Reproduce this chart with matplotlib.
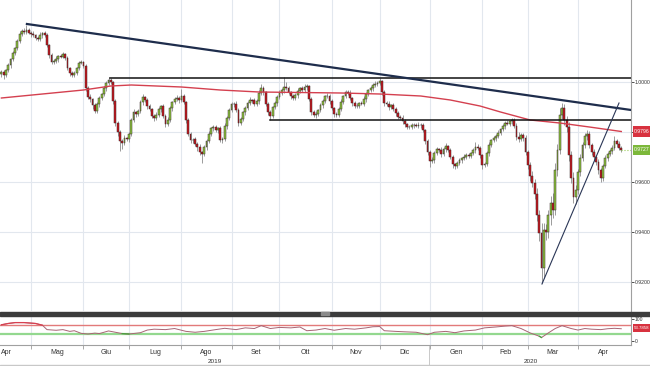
import numpy as np
import pandas as pd
import matplotlib
matplotlib.use("Agg")
import matplotlib.pyplot as plt
import matplotlib.transforms as mtrans
from matplotlib.patches import Rectangle

plt.rcParams['font.family'] = ['Liberation Sans', 'DejaVu Sans']

# ---------------- data (USD/CHF daily, prices in pips = 1/10000) ----------------
first_open_pips = 10030
close_pips = [
    10038, 10026, 10046, 10066, 10090, 10114, 10134, 10162, 10190, 10202,
    10198, 10206, 10194, 10190, 10186, 10174, 10170, 10186, 10194, 10186,
    10146, 10106, 10078, 10082, 10090, 10102, 10100, 10110, 10094, 10054,
    10034, 10026, 10034, 10054, 10074, 10078, 10062, 9974, 9938, 9930,
    9906, 9882, 9910, 9934, 9950, 9974, 9994, 10006, 9998, 9922,
    9834, 9798, 9762, 9754, 9774, 9772, 9790, 9846, 9878, 9870,
    9882, 9918, 9938, 9926, 9902, 9890, 9862, 9854, 9866, 9890,
    9902, 9862, 9830, 9846, 9894, 9918, 9930, 9934, 9926, 9942,
    9918, 9846, 9790, 9766, 9768, 9750, 9738, 9718, 9710, 9738,
    9762, 9790, 9814, 9818, 9806, 9814, 9766, 9770, 9822, 9854,
    9886, 9910, 9912, 9886, 9834, 9850, 9878, 9894, 9914, 9926,
    9924, 9910, 9922, 9954, 9974, 9958, 9910, 9878, 9862, 9898,
    9914, 9938, 9954, 9966, 9978, 9974, 9958, 9942, 9934, 9946,
    9962, 9974, 9966, 9978, 9982, 9930, 9878, 9866, 9870, 9886,
    9906, 9922, 9942, 9944, 9922, 9894, 9870, 9868, 9890, 9918,
    9942, 9958, 9956, 9934, 9914, 9902, 9904, 9914, 9912, 9930,
    9950, 9966, 9974, 9986, 9990, 9994, 10002, 9958, 9914, 9910,
    9898, 9906, 9890, 9874, 9858, 9854, 9842, 9830, 9818, 9820,
    9826, 9828, 9824, 9826, 9826, 9806, 9762, 9718, 9682, 9686,
    9714, 9730, 9726, 9710, 9730, 9742, 9726, 9698, 9670, 9662,
    9674, 9686, 9694, 9698, 9706, 9704, 9714, 9726, 9738, 9736,
    9706, 9666, 9670, 9714, 9746, 9766, 9774, 9782, 9794, 9810,
    9822, 9834, 9832, 9842, 9846, 9822, 9778, 9770, 9786, 9774,
    9718, 9666, 9622, 9594, 9550, 9466, 9394, 9254, 9406, 9398,
    9466, 9514, 9486, 9646, 9726, 9866, 9894, 9846, 9818, 9706,
    9614, 9538, 9566, 9638, 9694, 9746, 9782, 9790, 9746, 9718,
    9698, 9678, 9646, 9614, 9662, 9694, 9710, 9722, 9734, 9762,
    9750, 9734, 9727,
]
upper_wick_pips = [
    8, 10, 6, 8, 6, 10, 6, 8, 12, 10,
    14, 20, 8, 10, 12, 6, 8, 12, 6, 10,
    8, 6, 10, 8, 12, 6, 10, 8, 6, 8,
    6, 8, 10, 6, 8, 10, 6, 8, 10, 12,
    6, 8, 10, 8, 6, 10, 8, 12, 10, 6,
    8, 6, 10, 8, 12, 6, 10, 8, 14, 6,
    10, 8, 12, 6, 8, 10, 6, 8, 12, 10,
    6, 10, 8, 12, 10, 6, 8, 14, 10, 30,
    8, 6, 10, 8, 6, 10, 8, 12, 6, 10,
    8, 12, 6, 10, 8, 6, 10, 8, 12, 6,
    10, 8, 6, 12, 8, 10, 6, 8, 10, 12,
    6, 10, 8, 12, 16, 8, 6, 10, 8, 6,
    10, 8, 12, 10, 40, 20, 8, 6, 10, 8,
    12, 6, 10, 12, 8, 6, 10, 8, 12, 6,
    8, 10, 6, 12, 8, 10, 6, 8, 10, 12,
    6, 10, 8, 12, 6, 8, 10, 6, 8, 12,
    10, 6, 8, 10, 12, 8, 12, 6, 10, 8,
    12, 6, 8, 10, 6, 8, 12, 10, 6, 8,
    10, 8, 6, 12, 8, 10, 6, 8, 10, 12,
    8, 10, 6, 12, 8, 14, 6, 10, 8, 6,
    10, 8, 6, 12, 8, 10, 6, 8, 20, 12,
    8, 6, 10, 8, 12, 6, 10, 8, 12, 6,
    10, 8, 12, 6, 10, 8, 12, 20, 10, 8,
    12, 10, 14, 20, 18, 24, 20, 40, 30, 24,
    20, 30, 40, 30, 24, 30, 20, 18, 16, 20,
    16, 24, 20, 14, 16, 12, 14, 16, 12, 10,
    12, 10, 14, 8, 10, 12, 8, 10, 12, 20,
    10, 12, 8,
]
lower_wick_pips = [
    10, 14, 6, 8, 10, 6, 8, 10, 6, 8,
    8, 10, 6, 12, 8, 10, 6, 8, 10, 6,
    8, 12, 10, 8, 6, 10, 8, 6, 10, 8,
    12, 8, 6, 10, 8, 6, 10, 12, 8, 10,
    14, 8, 6, 10, 8, 6, 10, 8, 6, 12,
    10, 14, 40, 24, 8, 10, 12, 6, 8, 10,
    8, 6, 10, 8, 12, 6, 8, 10, 8, 6,
    10, 8, 12, 6, 8, 10, 6, 8, 10, 8,
    6, 10, 8, 12, 10, 8, 14, 10, 36, 8,
    10, 8, 6, 12, 8, 10, 8, 12, 6, 10,
    8, 6, 10, 8, 12, 6, 8, 10, 6, 8,
    10, 8, 6, 10, 8, 12, 8, 10, 14, 6,
    8, 10, 6, 8, 10, 8, 6, 10, 8, 6,
    10, 8, 6, 8, 10, 6, 12, 8, 10, 6,
    8, 10, 6, 8, 10, 6, 12, 8, 10, 6,
    8, 6, 10, 8, 12, 6, 8, 10, 6, 8,
    10, 8, 6, 10, 8, 6, 8, 12, 10, 8,
    10, 6, 8, 10, 6, 8, 12, 10, 8, 6,
    8, 10, 6, 8, 10, 8, 12, 10, 24, 8,
    10, 8, 6, 12, 8, 10, 6, 8, 14, 10,
    8, 6, 10, 8, 6, 10, 8, 6, 10, 8,
    10, 16, 8, 6, 10, 8, 6, 10, 8, 6,
    8, 10, 6, 8, 10, 8, 12, 10, 8, 10,
    12, 14, 18, 16, 20, 24, 30, 60, 40, 30,
    24, 40, 30, 20, 24, 16, 14, 18, 20, 24,
    20, 24, 28, 16, 14, 12, 10, 14, 12, 10,
    12, 10, 14, 16, 10, 8, 12, 8, 10, 8,
    10, 8, 8,
]

# 200-day moving average (read at sample days)
ma_idx = [0, 36, 48, 57, 79, 96, 113, 149, 166, 184, 197, 210, 219, 232, 245, 258, 272]
ma_pips = [9934, 9966, 9982, 9986, 9978, 9966, 9958, 9954, 9950, 9942, 9926, 9902, 9878, 9846, 9834, 9818, 9800]

# RSI (read at sample days)
rsi_idx = [0, 3, 6, 10, 15, 18, 20, 24, 27, 30, 32, 35, 38, 41, 43, 47, 50, 53, 56, 61,
           64, 67, 72, 76, 81, 85, 89, 94, 98, 103, 107, 111, 114, 118, 122, 127, 131, 134, 138, 142,
           146, 151, 155, 160, 163, 166, 168, 173, 177, 182, 187, 190, 195, 199, 203, 208, 212, 217, 221, 224,
           228, 232, 236, 237, 240, 243, 246, 250, 253, 256, 259, 263, 266, 269, 272]
rsi_val = [72, 78, 82, 82, 78, 70, 50, 47, 50, 42, 45, 33, 30, 34, 32, 44, 38, 32, 30, 36,
           48, 52, 50, 55, 42, 38, 42, 50, 56, 50, 58, 55, 68, 55, 60, 58, 62, 45, 48, 55,
           47, 55, 52, 58, 63, 64, 45, 42, 40, 38, 27, 38, 42, 36, 44, 48, 58, 62, 66, 68,
           55, 35, 20, 14, 35, 55, 68, 55, 48, 55, 52, 50, 54, 56, 54]

# drawn lines: (day index, price)
downtrend_x = [11.2, 276.3]
downtrend_y = [1.0230, 0.9886]
upper_hline_x = [47.6, 276.3]
upper_hline_y = [1.0014, 1.0014]
lower_hline_x = [117.9, 276.3]
lower_hline_y = [0.9848, 0.9848]
uptrend_x = [237.2, 271.0]
uptrend_y = [0.9190, 0.9914]

ytick_vals = [0.92, 0.94, 0.96, 0.98, 1.00]
ytick_labels = ['0.9200', '0.9400', '0.9600', '', '1.0000']
month_labels = ['Apr', 'Mag', 'Giu', 'Lug', 'Ago', 'Set', 'Ott', 'Nov', 'Dic', 'Gen', 'Feb', 'Mar', 'Apr']
year_labels = ['2019', '2020']
ma_label = '0.9796'
last_label = '0.9727'
rsi_label = '53.7858'

# ---------------- derived ----------------
dates = pd.bdate_range("2019-04-12", "2020-04-28")
n = len(dates)
x = np.arange(n)
close = np.array(close_pips) / 10000.0
open_ = np.r_[first_open_pips, close_pips[:-1]] / 10000.0
high = np.maximum(open_, close) + np.array(upper_wick_pips) / 10000.0
low = np.minimum(open_, close) - np.array(lower_wick_pips) / 10000.0

full = pd.bdate_range("2019-04-01", "2020-05-01")
off = full.get_loc(dates[0])
month_start = [i - off for i in range(len(full)) if i == 0 or full[i].month != full[i - 1].month]
mids = [(a + b) / 2 for a, b in zip(month_start[:-1], month_start[1:])]
grid_x = [s for s in month_start if 0 < s < n]
year_start = [i for i in range(n) if dates[i].year == 2020][0]

# ---------------- figure ----------------
W, H = 650, 366
fig = plt.figure(figsize=(6.5, 3.66), dpi=100)
fig.patch.set_facecolor('white')


def fy(py):
    return 1 - py / H


ax = fig.add_axes([0, fy(311), 631 / W, 311 / H])
axr = fig.add_axes([0, fy(345), 631 / W, 29 / H])

x_left, x_right = -1.4 / 2.279, (631 - 1.4) / 2.279
grid_c = '#e2e7ee'
y_lo, y_hi = 0.9082, 1.0326
r_lo, r_hi = -20, 112

# main panel
ax.set_xlim(x_left, x_right)
ax.set_ylim(y_lo, y_hi)
for g in grid_x:
    ax.axvline(g, color=grid_c, lw=0.8, zorder=0)
for v in [0.92, 0.94, 0.96, 0.98, 1.00]:
    ax.axhline(v, color=grid_c, lw=0.8, zorder=0)

up = close >= open_
colors = np.where(up, '#8dc63f', '#c8161e')
body_h = np.maximum(np.abs(close - open_), 0.00018)
ax.vlines(x, low, high, color='#8c8c8c', lw=0.6, zorder=2)
ax.bar(x, body_h, bottom=np.minimum(open_, close), width=0.8, color=colors,
       edgecolor='#3a2a2a', linewidth=0.35, zorder=3)

ax.plot(ma_idx, np.array(ma_pips) / 10000.0, color='#d4404f', lw=1.0, zorder=4)
ax.plot(upper_hline_x, upper_hline_y, color='#111111', lw=1.1, zorder=5)
ax.plot(lower_hline_x, lower_hline_y, color='#111111', lw=1.1, zorder=5)
ax.plot(downtrend_x, downtrend_y, color='#1e2d4c', lw=1.6, zorder=5)
ax.plot(uptrend_x, uptrend_y, color='#2a3656', lw=0.8, zorder=5)
ax.plot([n - 1, x_right], [close[-1], close[-1]], color='#9acd5a', lw=0.8, ls=':', zorder=5)

for s in ['top', 'left', 'bottom']:
    ax.spines[s].set_visible(False)
ax.spines['right'].set_color('#a0a0a0')
ax.spines['right'].set_linewidth(0.8)
ax.set_xticks([])
ax.yaxis.tick_right()
ax.set_yticks(ytick_vals)
ax.set_yticklabels(ytick_labels)
ax.tick_params(axis='y', length=2, width=0.6, pad=0.8, labelsize=3.7, colors='#333333')

# price boxes on the right strip
bt = mtrans.blended_transform_factory(ax.transAxes, ax.transData)
box_w = 18 / 631
px_main = (y_hi - y_lo) / 311
for val, txt, col in [(ma_pips[-1] / 10000.0, ma_label, '#d8323f'),
                      (close[-1], last_label, '#7cb83a')]:
    ax.add_patch(Rectangle((1.0025, val - 5.2 * px_main), box_w, 10.4 * px_main,
                           transform=bt, clip_on=False, fc=col, ec='none', zorder=10))
    ax.text(1.0025 + box_w / 2, val, txt, transform=bt, ha='center', va='center',
            fontsize=3.7, color='white', clip_on=False, zorder=11)

# RSI panel
axr.set_xlim(x_left, x_right)
axr.set_ylim(r_lo, r_hi)
for g in grid_x:
    axr.axvline(g, color=grid_c, lw=0.8, zorder=0)
axr.axhline(70, color='#e27a7a', lw=1.0, zorder=1)
axr.axhline(30, color='#93d88f', lw=1.6, zorder=1)
rv = np.array(rsi_val, dtype=float)
axr.plot(rsi_idx, rv, color='#a86474', lw=0.7, zorder=3)
axr.plot(rsi_idx, np.where(rv >= 68, rv, np.nan), color='#d84050', lw=0.9, zorder=4)
axr.plot(rsi_idx, np.where(rv <= 32, rv, np.nan), color='#4aa040', lw=0.9, zorder=4)

for s in ['top', 'left']:
    axr.spines[s].set_visible(False)
for s in ['right', 'bottom']:
    axr.spines[s].set_color('#a0a0a0')
    axr.spines[s].set_linewidth(0.8)
axr.yaxis.tick_right()
axr.set_yticks([0, 100])
axr.set_yticklabels(['0', '100'])
axr.tick_params(axis='y', length=2, width=0.6, pad=0.8, labelsize=3.6, colors='#333333')
axr.set_xticks(grid_x)
axr.set_xticklabels([])
axr.tick_params(axis='x', which='major', length=3, width=0.6, colors='#9a9a9a', direction='out')
axr.set_xticks(mids, minor=True)
axr.set_xticklabels(month_labels, minor=True)
axr.tick_params(axis='x', which='minor', length=0, pad=3, labelsize=5, labelcolor='#333333')

brt = mtrans.blended_transform_factory(axr.transAxes, axr.transData)
px_rsi = (r_hi - r_lo) / 29
rsi_box_y = 57
axr.add_patch(Rectangle((1.0025, rsi_box_y - 4 * px_rsi), box_w, 8 * px_rsi,
                        transform=brt, clip_on=False, fc='#d8323f', ec='none', zorder=10))
axr.text(1.0025 + box_w / 2, rsi_box_y, rsi_label, transform=brt, ha='center', va='center',
         fontsize=3.2, color='white', clip_on=False, zorder=11)

bxy = mtrans.blended_transform_factory(axr.transData, axr.transAxes)
axr.text((x_left + year_start) / 2, -0.56, year_labels[0], transform=bxy,
         ha='center', va='center', fontsize=4.6, color='#333333')
axr.text((year_start + x_right) / 2, -0.56, year_labels[1], transform=bxy,
         ha='center', va='center', fontsize=4.6, color='#333333')
axr.plot([year_start - 0.5, year_start - 0.5], [-0.05, -0.75], transform=bxy,
         color='#c0c0c0', lw=0.6, clip_on=False)

# separator bar between panels
fig.add_artist(Rectangle((0, fy(315.5)), 1, 3.5 / H, transform=fig.transFigure,
                         color='#3c3c3c', zorder=20))
fig.add_artist(Rectangle((321 / W, fy(315.2)), 8 / W, 3 / H, transform=fig.transFigure,
                         color='#8a8a8a', zorder=21))
# bottom border
fig.add_artist(Rectangle((0, 0), 1, 1.0 / H, transform=fig.transFigure,
                         color='#c8c8c8', zorder=20))

fig.savefig('out.png', dpi=100, facecolor='white')
